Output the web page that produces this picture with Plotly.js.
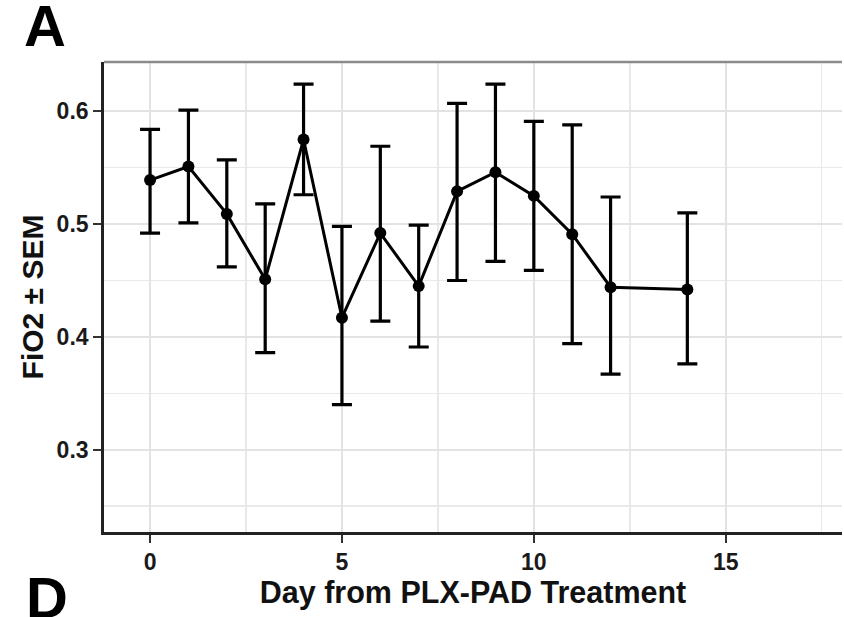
<!DOCTYPE html>
<html>
<head>
<meta charset="utf-8">
<script src="https://cdn.plot.ly/plotly-3.0.1.min.js"></script>
<style>html,body{margin:0;padding:0;background:#fff;}#chart{width:844px;height:617px;}</style>
</head>
<body>
<div id="chart"></div>
<script>
// Data
const days = [0, 1, 2, 3, 4, 5, 6, 7, 8, 9, 10, 11, 12, 14];
const fio2Mean = [0.539, 0.551, 0.509, 0.451, 0.575, 0.417, 0.492, 0.445, 0.529, 0.546, 0.525, 0.491, 0.444, 0.442];
const fio2Upper = [0.584, 0.601, 0.557, 0.518, 0.624, 0.498, 0.569, 0.499, 0.607, 0.624, 0.591, 0.588, 0.524, 0.510];
const fio2Lower = [0.492, 0.501, 0.462, 0.386, 0.526, 0.340, 0.414, 0.391, 0.450, 0.467, 0.459, 0.394, 0.367, 0.376];
const xTickVals = [0, 5, 10, 15];
const yTickVals = [0.3, 0.4, 0.5, 0.6];

const errPlus = fio2Upper.map((u, i) => u - fio2Mean[i]);
const errMinus = fio2Mean.map((m, i) => m - fio2Lower[i]);

const FONT = '"Liberation Sans", Arial, Helvetica, sans-serif';

const trace = {
  x: days,
  y: fio2Mean,
  type: 'scatter',
  mode: 'lines+markers',
  line: {color: '#000', width: 3},
  marker: {color: '#000', size: 12},
  error_y: {
    type: 'data', symmetric: false,
    array: errPlus, arrayminus: errMinus,
    color: '#000', thickness: 3.2, width: 10
  },
  hoverinfo: 'x+y'
};

const layout = {
  width: 844, height: 617,
  margin: {l: 104, r: 2, t: 62, b: 85},
  paper_bgcolor: '#fff', plot_bgcolor: '#fff',
  showlegend: false,
  font: {family: FONT, color: '#000'},
  xaxis: {
    range: [-1.2, 18.03],
    tickvals: xTickVals,
    ticks: 'outside', ticklen: 8, tickwidth: 2.2, tickcolor: '#333',
    tickfont: {family: FONT, size: 23, color: '#1a1a1a', weight: 'bold'},
    showgrid: true, gridcolor: '#e3e3e3', gridwidth: 1.8,
    minor: {dtick: 2.5, tick0: 0, showgrid: true, gridcolor: '#e9e9e9', gridwidth: 1.5},
    zeroline: false,
    showline: true, linecolor: '#222', linewidth: 2.8,
    title: {text: 'Day from PLX-PAD Treatment', font: {family: FONT, size: 30.5, color: '#111', weight: 'bold'}, standoff: 6}
  },
  yaxis: {
    range: [0.227, 0.6437],
    tickvals: yTickVals,
    tickformat: '.1f',
    ticks: 'outside', ticklen: 8, tickwidth: 2.2, tickcolor: '#333',
    tickfont: {family: FONT, size: 23, color: '#1a1a1a', weight: 'bold'},
    showgrid: true, gridcolor: '#e3e3e3', gridwidth: 1.8,
    minor: {dtick: 0.05, tick0: 0, showgrid: true, gridcolor: '#e9e9e9', gridwidth: 1.5},
    zeroline: false,
    showline: true, linecolor: '#222', linewidth: 2.8,
    title: {text: 'FiO2 ± SEM', font: {family: FONT, size: 30, color: '#111', weight: 'bold'}, standoff: 5}
  },
  shapes: [
    {type: 'line', xref: 'paper', yref: 'paper', x0: 0, x1: 1, y0: 1, y1: 1,
     line: {color: '#8c8c8c', width: 2.5}}
  ],
  annotations: [
    {text: 'A', xref: 'paper', yref: 'paper', x: -0.08, y: 1.077, xanchor: 'center', yanchor: 'middle',
     showarrow: false, font: {family: FONT, size: 58, color: '#000', weight: 'bold'}},
    {text: 'D', xref: 'paper', yref: 'paper', x: -0.077, y: -0.066, xanchor: 'center', yanchor: 'top',
     showarrow: false, font: {family: FONT, size: 58, color: '#000', weight: 'bold'}}
  ]
};

Plotly.newPlot('chart', [trace], layout, {displayModeBar: false, staticPlot: true});
</script>
</body>
</html>
